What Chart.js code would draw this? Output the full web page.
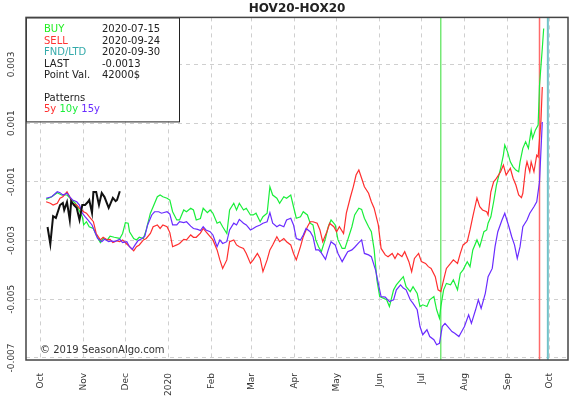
<!DOCTYPE html>
<html>
<head>
<meta charset="utf-8">
<script src="https://cdn.jsdelivr.net/npm/chart.js@4.4.1/dist/chart.umd.min.js"></script>
<style>
  html, body { margin: 0; padding: 0; background: #fff; }
</style>
</head>
<body>
<canvas id="chart" width="577" height="400"></canvas>
<script>
// x axis: days counted from 2019-10-01
const monthDays = [0, 31, 61, 92, 123, 152, 183, 213, 244, 274, 305, 336, 366];
const monthLabels = ['Oct', 'Nov', 'Dec', '2020', 'Feb', 'Mar', 'Apr', 'May', 'Jun', 'Jul', 'Aug', 'Sep', 'Oct'];
const yTicks = [-0.007, -0.006, -0.005, -0.004, -0.003, -0.002, -0.001, 0, 0.001, 0.002, 0.003, 0.004];
const yTickLabels = ['-0.007', '', '-0.005', '', '-0.003', '', '-0.001', '', '0.001', '', '0.003', ''];

// BUY, SELL, FND/LTD
const eventDays = [288, 359, 365];

const lastDays = [5, 7, 9, 11, 14, 16, 17, 19, 21, 22, 24, 26, 28, 30, 32, 34, 35, 37, 38, 40, 42, 44, 46, 49, 52, 54, 55, 57];
const lastValues = [-0.00254, -0.00312, -0.00217, -0.00223, -0.00179, -0.00172, -0.00196, -0.00169, -0.00230, -0.00166,
  -0.00179, -0.00189, -0.00230, -0.00179, -0.00179, -0.00169, -0.00162, -0.00206, -0.00135, -0.00135,
  -0.00179, -0.00138, -0.00152, -0.00189, -0.00155, -0.00166, -0.00162, -0.00132];

const days15y = [4, 8, 12, 14, 16, 19, 21, 23, 26, 28,
  30, 32, 34, 37, 39, 41, 44, 46, 49, 51,
  53, 57, 59, 62, 64, 66, 68, 70, 73, 75,
  77, 80, 82, 85, 87, 91, 93, 95, 98, 100,
  103, 105, 108, 110, 113, 115, 117, 119, 122, 124,
  127, 129, 131, 134, 136, 139, 141, 143, 146, 148,
  151, 153, 155, 158, 160, 163, 165, 167, 170, 172,
  175, 177, 180, 182, 184, 187, 189, 191, 194, 196,
  198, 200, 202, 205, 207, 209, 212, 214, 217, 219,
  221, 224, 226, 229, 231, 233, 236, 238, 241, 243,
  245, 248, 251, 254, 256, 259, 261, 263, 266, 268,
  271, 273, 275, 278, 280, 283, 285, 287, 289, 291,
  293, 296, 298, 301, 303, 305, 308, 310, 313, 315,
  317, 320, 322, 325, 327, 329, 332, 334, 337, 339,
  341, 343, 345, 347, 350, 352, 355, 357, 359, 361];
const values15y = [-0.00156, -0.00151, -0.00134, -0.00137, -0.00145, -0.00139, -0.00151, -0.00162, -0.00168, -0.00179,
  -0.00207, -0.00219, -0.00230, -0.00247, -0.00270, -0.00293, -0.00304, -0.00296, -0.00304, -0.00301,
  -0.00304, -0.00296, -0.00307, -0.00304, -0.00321, -0.00330, -0.00315, -0.00301, -0.00293, -0.00285,
  -0.00247, -0.00213, -0.00202, -0.00202, -0.00207, -0.00202, -0.00210, -0.00247, -0.00247, -0.00236,
  -0.00239, -0.00236, -0.00251, -0.00259, -0.00262, -0.00266, -0.00253, -0.00264, -0.00270, -0.00281,
  -0.00321, -0.00298, -0.00310, -0.00304, -0.00264, -0.00241, -0.00247, -0.00228, -0.00241, -0.00247,
  -0.00264, -0.00259, -0.00253, -0.00247, -0.00241, -0.00236, -0.00205, -0.00241, -0.00253, -0.00247,
  -0.00253, -0.00230, -0.00224, -0.00247, -0.00293, -0.00298, -0.00281, -0.00259, -0.00270, -0.00287,
  -0.00332, -0.00332, -0.00342, -0.00364, -0.00332, -0.00304, -0.00315, -0.00344, -0.00372, -0.00355,
  -0.00338, -0.00332, -0.00323, -0.00307, -0.00298, -0.00344, -0.00349, -0.00355, -0.00400, -0.00446,
  -0.00491, -0.00493, -0.00508, -0.00502, -0.00468, -0.00451, -0.00462, -0.00468, -0.00502, -0.00514,
  -0.00536, -0.00593, -0.00621, -0.00604, -0.00627, -0.00638, -0.00655, -0.00650, -0.00593, -0.00582,
  -0.00593, -0.00610, -0.00616, -0.00627, -0.00610, -0.00593, -0.00553, -0.00582, -0.00536, -0.00502,
  -0.00531, -0.00480, -0.00423, -0.00395, -0.00321, -0.00270, -0.00230, -0.00207, -0.00253, -0.00287,
  -0.00315, -0.00361, -0.00321, -0.00253, -0.00230, -0.00207, -0.00185, -0.00168, -0.00100, 0.00104];

const days10y = [4, 8, 12, 15, 19, 22, 25, 27, 30, 31,
  33, 35, 38, 40, 43, 45, 48, 50, 53, 57,
  59, 61, 63, 64, 67, 69, 71, 74, 76, 79,
  81, 84, 86, 88, 91, 93, 95, 98, 100, 103,
  105, 108, 110, 112, 115, 117, 120, 122, 124, 127,
  129, 131, 134, 136, 139, 141, 143, 146, 148, 151,
  153, 155, 158, 160, 163, 165, 167, 170, 172, 175,
  177, 180, 182, 184, 187, 189, 192, 194, 196, 198,
  200, 202, 205, 207, 209, 212, 214, 217, 219, 221,
  224, 226, 229, 231, 233, 236, 238, 240, 242, 244,
  249, 251, 254, 256, 259, 261, 263, 266, 268, 271,
  273, 275, 278, 280, 283, 285, 287, 288, 290, 292,
  295, 297, 300, 302, 304, 307, 309, 311, 314, 316,
  319, 321, 322, 324, 326, 328, 331, 333, 334, 336,
  338, 340, 342, 344, 345, 347, 349, 351, 353, 354,
  356, 358, 359, 361, 362];
const values10y = [-0.00160, -0.00151, -0.00137, -0.00145, -0.00145, -0.00160, -0.00173, -0.00190, -0.00219, -0.00247,
  -0.00236, -0.00253, -0.00259, -0.00281, -0.00307, -0.00293, -0.00298, -0.00285, -0.00289, -0.00293,
  -0.00276, -0.00239, -0.00241, -0.00270, -0.00293, -0.00298, -0.00289, -0.00293, -0.00264, -0.00207,
  -0.00185, -0.00151, -0.00145, -0.00151, -0.00156, -0.00162, -0.00202, -0.00230, -0.00230, -0.00196,
  -0.00202, -0.00190, -0.00196, -0.00230, -0.00225, -0.00190, -0.00205, -0.00196, -0.00207, -0.00241,
  -0.00236, -0.00253, -0.00276, -0.00196, -0.00173, -0.00196, -0.00173, -0.00196, -0.00190, -0.00213,
  -0.00213, -0.00207, -0.00236, -0.00219, -0.00207, -0.00117, -0.00145, -0.00156, -0.00173, -0.00151,
  -0.00156, -0.00145, -0.00185, -0.00224, -0.00219, -0.00202, -0.00213, -0.00241, -0.00247, -0.00298,
  -0.00321, -0.00338, -0.00293, -0.00253, -0.00230, -0.00247, -0.00298, -0.00327, -0.00327, -0.00298,
  -0.00253, -0.00213, -0.00190, -0.00194, -0.00224, -0.00253, -0.00270, -0.00330, -0.00434, -0.00491,
  -0.00502, -0.00525, -0.00468, -0.00451, -0.00434, -0.00423, -0.00457, -0.00474, -0.00457, -0.00480,
  -0.00525, -0.00519, -0.00525, -0.00502, -0.00491, -0.00536, -0.00565, -0.00525, -0.00468, -0.00446,
  -0.00451, -0.00434, -0.00468, -0.00412, -0.00400, -0.00372, -0.00389, -0.00332, -0.00298, -0.00321,
  -0.00270, -0.00264, -0.00241, -0.00219, -0.00168, -0.00111, -0.00054, -0.00009, 0.00025, 0.00002,
  -0.00032, -0.00049, -0.00060, -0.00066, -0.00032, 0.00014, 0.00036, 0.00014, 0.00076, 0.00048,
  0.00076, 0.00093, 0.00229, 0.00354, 0.00422];

const days5y = [4, 7, 9, 12, 14, 16, 19, 21, 23, 26,
  28, 31, 33, 35, 38, 40, 43, 45, 48, 50,
  52, 55, 57, 59, 62, 64, 67, 69, 71, 74,
  76, 79, 81, 84, 86, 88, 91, 93, 95, 98,
  100, 103, 105, 108, 110, 112, 115, 117, 120, 122,
  124, 127, 129, 131, 134, 136, 139, 141, 143, 146,
  148, 151, 153, 156, 158, 160, 163, 165, 167, 170,
  172, 175, 177, 180, 182, 184, 187, 189, 192, 194,
  196, 199, 201, 203, 206, 208, 211, 213, 215, 218,
  220, 223, 225, 227, 229, 231, 233, 236, 238, 240,
  243, 245, 248, 250, 253, 255, 257, 260, 262, 265,
  267, 269, 272, 274, 277, 279, 281, 284, 286, 288,
  290, 292, 295, 297, 300, 302, 304, 307, 309, 311,
  314, 316, 318, 321, 322, 324, 326, 328, 331, 333,
  335, 338, 340, 342, 344, 346, 347, 349, 350, 352,
  353, 355, 357, 358, 360, 361];
const values5y = [-0.00168, -0.00173, -0.00179, -0.00173, -0.00156, -0.00151, -0.00134, -0.00151, -0.00173, -0.00179,
  -0.00190, -0.00202, -0.00207, -0.00219, -0.00236, -0.00276, -0.00298, -0.00289, -0.00298, -0.00296,
  -0.00307, -0.00301, -0.00304, -0.00298, -0.00312, -0.00321, -0.00335, -0.00321, -0.00315, -0.00298,
  -0.00293, -0.00276, -0.00253, -0.00247, -0.00259, -0.00247, -0.00253, -0.00273, -0.00321, -0.00315,
  -0.00310, -0.00296, -0.00298, -0.00281, -0.00289, -0.00289, -0.00275, -0.00259, -0.00276, -0.00287,
  -0.00298, -0.00332, -0.00366, -0.00395, -0.00366, -0.00304, -0.00298, -0.00315, -0.00321, -0.00327,
  -0.00344, -0.00378, -0.00366, -0.00344, -0.00361, -0.00406, -0.00366, -0.00332, -0.00315, -0.00287,
  -0.00304, -0.00293, -0.00304, -0.00315, -0.00344, -0.00366, -0.00321, -0.00287, -0.00253, -0.00236,
  -0.00236, -0.00241, -0.00264, -0.00304, -0.00270, -0.00241, -0.00253, -0.00270, -0.00253, -0.00276,
  -0.00207, -0.00151, -0.00117, -0.00077, -0.00060, -0.00088, -0.00117, -0.00139, -0.00168, -0.00190,
  -0.00247, -0.00327, -0.00349, -0.00355, -0.00344, -0.00361, -0.00344, -0.00355, -0.00338, -0.00372,
  -0.00406, -0.00361, -0.00344, -0.00372, -0.00378, -0.00389, -0.00395, -0.00423, -0.00468, -0.00474,
  -0.00434, -0.00395, -0.00378, -0.00366, -0.00378, -0.00344, -0.00315, -0.00304, -0.00264, -0.00219,
  -0.00155, -0.00185, -0.00196, -0.00202, -0.00213, -0.00134, -0.00100, -0.00088, -0.00066, -0.00043,
  -0.00077, -0.00054, -0.00088, -0.00111, -0.00145, -0.00154, -0.00139, -0.00054, -0.00032, -0.00066,
  -0.00032, -0.00066, -0.00009, -0.00015, 0.00104, 0.00223];

const yMin = -0.00707;
const yMax = 0.0046;
const xMin = -10.5;
const xMax = 379.5;

const infoLabels = ['BUY', 'SELL', 'FND/LTD', 'LAST', 'Point Val.'];
const infoValues = ['2020-07-15', '2020-09-24', '2020-09-30', '-0.0013', '42000$'];
const infoColors = ['#22ee22', '#ff3333', '#33aaaa', '#222', '#222'];
const patternNames = ['5y', '10y', '15y'];
const patternColors = ['#ff2e2e', '#1aee3a', '#6a2cff'];

const FONT = "'DejaVu Sans', sans-serif";

function pairs(xs, ys) {
  return xs.map((x, i) => ({ x: x, y: ys[i] }));
}

function eventLine(day) {
  return [{ x: day, y: yMin }, { x: day, y: yMax }];
}

const overlay = {
  id: 'overlay',
  afterDraw(chart) {
    const { ctx, chartArea: a } = chart;
    ctx.save();

    // copyright
    ctx.font = '10px ' + FONT;
    ctx.fillStyle = '#333';
    ctx.textBaseline = 'middle';
    ctx.textAlign = 'left';
    ctx.fillText('\u00a9 2019 SeasonAlgo.com', a.left + 14, a.bottom - 10);

    // info box
    ctx.fillStyle = '#fff';
    ctx.fillRect(a.left, a.top, 153, 104);
    ctx.strokeStyle = '#222';
    ctx.lineWidth = 1;
    ctx.strokeRect(a.left + 0.5, a.top + 0.5, 153, 104);

    const x1 = a.left + 18;
    const x2 = a.left + 76;
    let y = a.top + 12.5;
    infoLabels.forEach((label, i) => {
      ctx.fillStyle = infoColors[i];
      ctx.fillText(label, x1, y);
      ctx.fillStyle = '#222';
      ctx.fillText(infoValues[i], x2, y);
      y += 11.4;
    });
    y += 11.4;
    ctx.fillStyle = '#222';
    ctx.fillText('Patterns', x1, y);
    y += 11.4;
    let px = x1;
    patternNames.forEach((name, i) => {
      ctx.fillStyle = patternColors[i];
      ctx.fillText(name, px, y);
      px += ctx.measureText(name + ' ').width;
    });

    // plot frame
    ctx.strokeStyle = '#444';
    ctx.lineWidth = 1.5;
    ctx.strokeRect(a.left, a.top, a.right - a.left, a.bottom - a.top);
    ctx.restore();
  }
};

const lineStyle = { pointRadius: 0, borderWidth: 1.2, tension: 0, fill: false };

new Chart(document.getElementById('chart'), {
  type: 'line',
  data: {
    datasets: [
      { label: 'LAST', data: pairs(lastDays, lastValues), borderColor: '#111', ...lineStyle, borderWidth: 2 },
      { label: '15y', data: pairs(days15y, values15y), borderColor: patternColors[2], ...lineStyle },
      { label: '5y', data: pairs(days5y, values5y), borderColor: patternColors[0], ...lineStyle },
      { label: '10y', data: pairs(days10y, values10y), borderColor: patternColors[1], ...lineStyle },
      { label: 'BUY', data: eventLine(eventDays[0]), borderColor: '#33dd33', ...lineStyle, borderWidth: 1 },
      { label: 'SELL', data: eventLine(eventDays[1]), borderColor: '#ff6b6b', ...lineStyle, borderWidth: 1.5 },
      { label: 'FND', data: eventLine(eventDays[2]), borderColor: '#72c2c9', ...lineStyle, borderWidth: 2 }
    ]
  },
  options: {
    responsive: false,
    animation: false,
    devicePixelRatio: 1,
    layout: { padding: { top: 0, right: 9, bottom: 0, left: 0 } },
    plugins: {
      legend: { display: false },
      tooltip: { enabled: false },
      title: {
        display: true,
        fullSize: false,
        text: 'HOV20-HOX20',
        color: '#222',
        font: { family: FONT, size: 12, weight: 'bold' },
        padding: { top: 2, bottom: 1 }
      }
    },
    scales: {
      x: {
        type: 'linear',
        min: xMin,
        max: xMax,
        afterBuildTicks: scale => { scale.ticks = monthDays.map(v => ({ value: v })); },
        afterFit: scale => { scale.height = 40; },
        grid: { color: '#cfcfcf', drawTicks: false },
        border: { display: false, dash: [4, 4] },
        ticks: {
          autoSkip: false,
          minRotation: 90,
          maxRotation: 90,
          padding: 13,
          color: '#333',
          font: { family: FONT, size: 9 },
          callback: (value, index) => monthLabels[index]
        }
      },
      y: {
        min: yMin,
        max: yMax,
        afterBuildTicks: scale => { scale.ticks = yTicks.map(v => ({ value: v })); },
        afterFit: scale => { scale.width = 26; },
        grid: { color: '#cfcfcf', drawTicks: false },
        border: { display: false, dash: [4, 4] },
        ticks: {
          minRotation: 90,
          maxRotation: 90,
          crossAlign: 'center',
          padding: 0,
          color: '#333',
          font: { family: FONT, size: 9 },
          callback: (value, index) => yTickLabels[index]
        }
      }
    }
  },
  plugins: [overlay]
});
</script>
</body>
</html>
